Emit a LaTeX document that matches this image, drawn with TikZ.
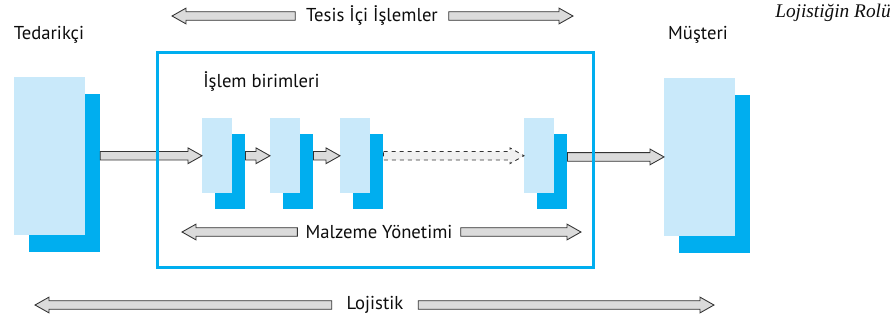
\documentclass[tikz,border=0pt]{standalone}
\usepackage{fontspec}
\setmainfont{PT Sans}
\newfontfamily\titlefont{Liberation Serif}
\usetikzlibrary{positioning,calc}
\usepackage{xcolor}
\definecolor{boxlight}{HTML}{C9E9FA}
\definecolor{boxdark}{HTML}{00AEEF}

\tikzset{
  lightbox/.style={fill=boxlight, inner sep=0pt, anchor=north west},
  darkbox/.style={fill=boxdark, inner sep=0pt, anchor=north west},
  unitlight/.style={lightbox, minimum width=22.5pt, minimum height=56.25pt},
  unitdark/.style={darkbox, minimum width=22.5pt, minimum height=56.25pt},
  endlight/.style={lightbox, minimum width=53pt, minimum height=118pt},
  enddark/.style={darkbox, minimum width=53pt, minimum height=118pt},
  label/.style={font=\fontsize{14}{16}\selectfont, text=black!95, inner sep=0pt},
  span/.style={label, inner xsep=8pt},
  fat/.style={fill=black!14, draw=black!80, line width=0.65pt, line join=miter,
    to path={let \p1=(\tikztostart), \p2=(\tikztotarget),
      \p3=($(\x2,\y2)!10.5pt!(\x1,\y2)$) in
      (\x1,{\y2+3.2pt}) -- (\x3,{\y2+3.2pt}) -- (\x3,{\y2+5.9pt})
      -- (\x2,\y2) -- (\x3,{\y2-5.9pt}) -- (\x3,{\y2-3.2pt})
      -- (\x1,{\y2-3.2pt}) -- cycle}},
  fatdash/.style={fat, dashed, fill=black!6}
}

\begin{document}
\begin{tikzpicture}[x=0.75pt, y=-0.75pt]
  \useasboundingbox (0,0) rectangle (895,329);

  \node[enddark] (supd) at (29,94) {};
  \node[endlight] (sup) at (14,77) {};
  \node[enddark] (cusd) at (679,95) {};
  \node[endlight] (cus) at (664,78) {};

  \node[unitdark] (u1d) at (215,134) {};
  \node[unitlight] (u1) at (202,118) {};
  \node[unitdark] (u2d) at (283,134) {};
  \node[unitlight] (u2) at (270,118) {};
  \node[unitdark] (u3d) at (353,134) {};
  \node[unitlight] (u3) at (340,118) {};
  \node[unitdark] (u4d) at (537,134) {};
  \node[unitlight] (u4) at (524,118) {};

  \node[label] (tedarikci) at (49,35) {Tedarikçi};
  \node[label] (musteri) at (698,35) {Müşteri};
  \node[label, anchor=west] (islem) at (203,82) {İşlem birimleri};
  \node[label, anchor=east, font=\titlefont\itshape\fontsize{14.5}{16}\selectfont] (rol) at (891,13) {Lojistiğin Rolü};

  \node[span] (tesis) at (372,16) {Tesis İçi İşlemler};
  \node[span, inner xsep=6pt] (malzeme) at (379,232) {Malzeme Yönetimi};
  \node[span, inner xsep=11pt] (lojistik) at (375,305) {Lojistik};
  \coordinate (tesisL) at (172,16);
  \coordinate (tesisR) at (573,16);
  \coordinate (malzL) at (182,232);
  \coordinate (malzR) at (581,232);
  \coordinate (lojL) at (35,305);
  \coordinate (lojR) at (714,305);

  \draw[fat] (supd.east) to (u1.west);
  \draw[fat] (u1d.east) to (u2.west);
  \draw[fat] (u2d.east) to (u3.west);
  \draw[fatdash] (u3d.east) to (u4.west);
  \draw[fat] (u4d.east) to (cus.west);

  \draw[fat] (tesis.west) to (tesisL);
  \draw[fat] (tesis.east) to (tesisR);
  \draw[fat] (malzeme.west) to (malzL);
  \draw[fat] (malzeme.east) to (malzR);
  \draw[fat] (lojistik.west) to (lojL);
  \draw[fat] (lojistik.east) to (lojR);

  \draw[boxdark, line width=2.25pt] (157,52) rectangle (593,267);
\end{tikzpicture}
\end{document}
